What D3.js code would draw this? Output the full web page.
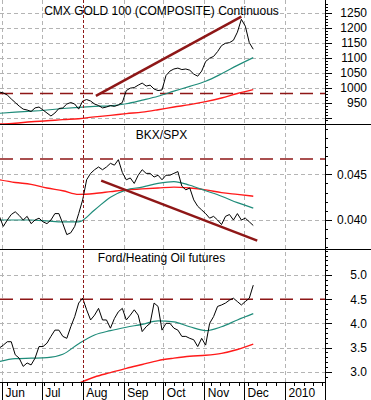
<!DOCTYPE html>
<html>
<head>
<meta charset="utf-8">
<script src="https://cdn.jsdelivr.net/npm/d3@7"></script>
<style>
  body { margin: 0; background: #fff; }
  svg { display: block; }
  text { font-family: "Liberation Sans", Arial, sans-serif; font-size: 12px; fill: #000; }
  .crisp, .tick line { shape-rendering: crispEdges; }
</style>
</head>
<body>
<svg width="371" height="400"></svg>
<script>
// Ряды данных: значения через каждые 3 дня, начиная с 30 мая 2009
const seriesStart = "2009-05-30";
const stepDays = 3;
// Скользящие средние: значения через каждые 12 дней
const maStepDays = 12;

const goldClose = [985, 982, 975, 962, 950, 938, 928, 925, 920, 932,
                   935, 925, 915, 905, 915, 930, 932, 945, 950, 945,
                   928, 955, 960, 955, 945, 940, 932, 935, 940, 937,
                   942, 950, 990, 998, 1000, 1008, 1015, 1005, 1008, 995,
                   990, 992, 1040, 1055, 1062, 1065, 1060, 1062, 1058, 1045,
                   1038, 1055, 1087, 1098, 1104, 1120, 1140, 1148, 1150, 1158,
                   1185, 1228, 1205, 1150, 1128];
const goldTeal = [914, 918, 921, 925, 930, 934, 937, 939, 946, 958, 971, 988, 1004, 1021, 1046, 1074, 1100];
const goldRed  = [878, 881, 886, 889, 893, 896, 902, 907, 913, 918, 926, 935, 943, 953, 965, 980, 993];

const bkxClose = [0.0404, 0.0393, 0.0400, 0.0406, 0.0409, 0.0405, 0.0400, 0.0404, 0.0396, 0.0400,
                  0.0402, 0.0398, 0.0396, 0.0400, 0.0407, 0.0407, 0.0396, 0.0384, 0.0386, 0.0393,
                  0.0407, 0.0422, 0.0444, 0.0451, 0.0455, 0.0458, 0.0455, 0.0458, 0.0462, 0.0460,
                  0.0466, 0.0452, 0.0444, 0.0446, 0.0440, 0.0449, 0.0455, 0.0451, 0.0451, 0.0447,
                  0.0449, 0.0444, 0.0449, 0.0449, 0.0451, 0.0453, 0.0437, 0.0433, 0.0435, 0.0422,
                  0.0415, 0.0411, 0.0407, 0.0402, 0.0404, 0.0400, 0.0395, 0.0404, 0.0406, 0.0400,
                  0.0407, 0.0400, 0.0402, 0.0398, 0.0394];
const bkxTeal = [0.0400, 0.0400, 0.0400, 0.0399, 0.0398, 0.0398, 0.0411, 0.0425, 0.0433, 0.0436,
                 0.0440, 0.0442, 0.0438, 0.0432, 0.0426, 0.0419, 0.0413];
const bkxRed  = [0.0444, 0.0441, 0.0439, 0.0435, 0.0432, 0.0428, 0.0429, 0.0431, 0.0433, 0.0434,
                 0.0435, 0.0436, 0.0435, 0.0433, 0.0430, 0.0428, 0.0426];

const fordClose = [3.49, 3.55, 3.62, 3.62, 3.35, 3.28, 3.11, 3.18, 3.14, 3.28,
                   3.52, 3.52, 3.59, 3.73, 3.86, 3.86, 3.73, 3.69, 3.93, 4.14,
                   4.42, 4.52, 4.28, 4.07, 4.17, 4.31, 4.07, 4.07, 3.90, 4.10,
                   4.24, 4.31, 4.07, 4.17, 4.28, 4.17, 3.83, 3.93, 4.00, 4.42,
                   4.35, 3.86, 4.00, 4.00, 3.90, 3.86, 3.73, 3.73, 3.69, 3.66,
                   3.52, 3.69, 3.55, 4.00, 4.14, 4.35, 4.38, 4.42, 4.48, 4.52,
                   4.45, 4.38, 4.45, 4.52, 4.79];
const fordTeal = [3.21, 3.27, 3.28, 3.29, 3.36, 3.58, 3.76, 3.85, 3.92, 3.98, 4.05, 4.03, 3.93, 3.85, 3.93, 4.07, 4.20];
const fordRed  = [null, null, null, null, null, 2.76, 2.89, 2.98, 3.07, 3.15, 3.23, 3.28, 3.32, 3.34, 3.38, 3.46, 3.57];

// Линии тренда и горизонтальные уровни
const goldTrend = [["2009-08-11", 972], ["2009-11-29", 1237]];
const bkxTrend  = [["2009-08-15", 0.0443], ["2009-12-11", 0.03774]];
const goldLevel = 980;
const bkxLevel  = 0.04667;
const fordLevel = 4.5;
const markerDate = "2009-08-01";

// Подписи и деления правой оси
const goldTicks = [900, 950, 1000, 1050, 1100, 1150, 1200, 1250];
const bkxTicks  = [0.040, 0.045];
const fordTicks = [3.0, 3.5, 4.0, 4.5, 5.0];
const monthTicks = ["2009-06-01", "2009-07-01", "2009-08-01", "2009-09-01",
                    "2009-10-01", "2009-11-01", "2009-12-01", "2010-01-01"];

const parse = d3.timeParse("%Y-%m-%d");
const colors = { close: "#000", teal: "#1f8c7a", red: "#ff1a1a", trend: "#8e1717", grid: "#b4b4b4" };

const svg = d3.select("svg");
const attr_area = { width: 371, height: 400, axisX: 325, bottom: 382 };

const scaleX = d3.scaleTime()
    .domain([parse("2009-06-01"), parse("2010-01-01")])
    .range([2, 285]);

// координата линии по центру пикселя
const px = v => Math.round(v) + 0.5;

function makeRows(values, step) {
    const start = parse(seriesStart);
    return values.map((v, i) => ({ date: d3.timeDay.offset(start, step * i), value: v }));
}

const panels = [
    { id: "gold", top: 0, bottom: 124, domain: [900, 1250], range: [117.5, 12.7],
      title: "CMX GOLD 100 (COMPOSITE) Continuous", titleY: 15,
      close: goldClose, teal: goldTeal, red: goldRed, trend: goldTrend, level: goldLevel,
      ticks: goldTicks, minorStep: 10, fmt: d => d === 900 ? "" : d3.format("d")(d) },
    { id: "bkx", top: 124, bottom: 249, domain: [0.040, 0.045], range: [220, 174.3],
      title: "BKX/SPX", titleY: 139,
      close: bkxClose, teal: bkxTeal, red: bkxRed, trend: bkxTrend, level: bkxLevel,
      ticks: bkxTicks, minorStep: 0.001, fmt: d3.format(".3f") },
    { id: "ford", top: 249, bottom: 382, domain: [3.0, 5.0], range: [371.7, 275],
      title: "Ford/Heating Oil futures", titleY: 262,
      close: fordClose, teal: fordTeal, red: fordRed, trend: null, level: fordLevel,
      ticks: fordTicks, minorStep: 0.1, fmt: d3.format(".1f") }
];

// Вертикальная сетка по месяцам (кроме августа - там пунктир маркера)
monthTicks.filter(d => d !== markerDate).forEach(d => {
    svg.append("line")
        .attr("x1", px(scaleX(parse(d)))).attr("x2", px(scaleX(parse(d))))
        .attr("y1", 0).attr("y2", attr_area.bottom)
        .attr("stroke", colors.grid).attr("stroke-dasharray", "4,3");
});

panels.forEach(p => drawPanel(p));

// Вертикальный маркер 1 августа
svg.append("line")
    .attr("x1", px(scaleX(parse(markerDate)))).attr("x2", px(scaleX(parse(markerDate))))
    .attr("y1", 0).attr("y2", attr_area.bottom)
    .attr("stroke", colors.trend).attr("stroke-width", 1)
    .attr("stroke-dasharray", "3,2");

drawAxisX();

// Правая вертикальная ось на всю высоту
svg.append("line")
    .attr("class", "crisp")
    .attr("x1", px(attr_area.axisX)).attr("x2", px(attr_area.axisX))
    .attr("y1", 0).attr("y2", attr_area.height)
    .attr("stroke", "#000");

function drawPanel(p) {
    const scaleY = d3.scaleLinear().domain(p.domain).range(p.range);
    const clipId = "clip-" + p.id;

    svg.append("clipPath").attr("id", clipId)
        .append("rect")
        .attr("x", 0).attr("y", p.top)
        .attr("width", attr_area.axisX).attr("height", p.bottom - p.top);

    // горизонтальная сетка
    svg.append("g")
        .selectAll("line")
        .data(p.ticks.filter(t => t !== p.level))
        .enter()
        .append("line")
        .attr("x1", 0).attr("x2", attr_area.axisX)
        .attr("y1", d => px(scaleY(d))).attr("y2", d => px(scaleY(d)))
        .attr("stroke", colors.grid).attr("stroke-dasharray", "4,3");

    const g = svg.append("g").attr("clip-path", `url(#${clipId})`);

    // уровень
    g.append("line")
        .attr("x1", 0).attr("x2", attr_area.axisX)
        .attr("y1", scaleY(p.level)).attr("y2", scaleY(p.level))
        .attr("stroke", colors.trend).attr("stroke-width", 1.4)
        .attr("stroke-dasharray", "13,7");

    const maLine = d3.line()
        .defined(d => d.value != null)
        .x(d => scaleX(d.date))
        .y(d => scaleY(d.value))
        .curve(d3.curveMonotoneX);

    g.append("path")
        .datum(makeRows(p.red, maStepDays))
        .attr("fill", "none").attr("stroke", colors.red).attr("stroke-width", 1.4)
        .attr("d", maLine);

    g.append("path")
        .datum(makeRows(p.teal, maStepDays))
        .attr("fill", "none").attr("stroke", colors.teal).attr("stroke-width", 1.2)
        .attr("d", maLine);

    const closeLine = d3.line()
        .x(d => scaleX(d.date))
        .y(d => scaleY(d.value));

    g.append("path")
        .datum(makeRows(p.close, stepDays))
        .attr("fill", "none").attr("stroke", colors.close).attr("stroke-width", 1)
        .attr("d", closeLine);

    if (p.trend) {
        g.append("line")
            .attr("x1", scaleX(parse(p.trend[0][0]))).attr("y1", scaleY(p.trend[0][1]))
            .attr("x2", scaleX(parse(p.trend[1][0]))).attr("y2", scaleY(p.trend[1][1]))
            .attr("stroke", colors.trend).attr("stroke-width", 2.5);
    }

    svg.append("text")
        .attr("x", 161.5).attr("y", p.titleY)
        .attr("text-anchor", "middle")
        .text(p.title);

    // мелкие деления
    const lo = scaleY.invert(p.bottom), hi = scaleY.invert(p.top);
    const minor = d3.range(Math.ceil(lo / p.minorStep), Math.floor(hi / p.minorStep) + 1)
        .map(k => k * p.minorStep)
        .filter(v => scaleY(v) > p.top + 1 && scaleY(v) < p.bottom - 1);

    svg.append("g")
        .attr("transform", `translate(${attr_area.axisX},0)`)
        .call(d3.axisRight(scaleY).tickValues(minor).tickSize(3).tickFormat(""))
        .call(a => a.select(".domain").remove());

    // основные деления с подписями
    svg.append("g")
        .attr("transform", `translate(${attr_area.axisX},0)`)
        .call(d3.axisRight(scaleY).tickValues(p.ticks).tickSize(7).tickFormat(p.fmt))
        .call(a => a.select(".domain").remove())
        .selectAll("text")
        .attr("x", 42)
        .attr("text-anchor", "end")
        .style("font-size", "12px")
        .style("font-family", '"Liberation Sans", Arial, sans-serif');

    // разделитель панелей
    if (p.bottom < attr_area.bottom) {
        svg.append("line")
            .attr("class", "crisp")
            .attr("x1", 0).attr("x2", attr_area.width)
            .attr("y1", px(p.bottom)).attr("y2", px(p.bottom))
            .attr("stroke", "#000");
    }
}

function drawAxisX() {
    const months = monthTicks.map(parse);
    const fridays = d3.timeFriday.range(parse("2009-06-02"), parse("2010-01-31"));

    svg.append("g")
        .attr("transform", `translate(0,${attr_area.bottom})`)
        .call(d3.axisBottom(scaleX).tickValues(fridays).tickSize(4).tickFormat(""))
        .call(a => a.select(".domain").remove());

    svg.append("g")
        .attr("transform", `translate(0,${attr_area.bottom})`)
        .call(d3.axisBottom(scaleX).tickValues(months).tickSize(18)
            .tickFormat(d => d.getMonth() === 0 ? d.getFullYear() : d3.timeFormat("%b")(d)))
        .call(a => a.select(".domain").remove())
        .selectAll("text")
        .attr("x", 3).attr("y", 15).attr("dy", null)
        .attr("text-anchor", "start")
        .style("font-size", "12px")
        .style("font-family", '"Liberation Sans", Arial, sans-serif');

    svg.append("line")
        .attr("class", "crisp")
        .attr("x1", 0).attr("x2", attr_area.axisX)
        .attr("y1", px(attr_area.bottom)).attr("y2", px(attr_area.bottom))
        .attr("stroke", "#000");
}
</script>
</body>
</html>
